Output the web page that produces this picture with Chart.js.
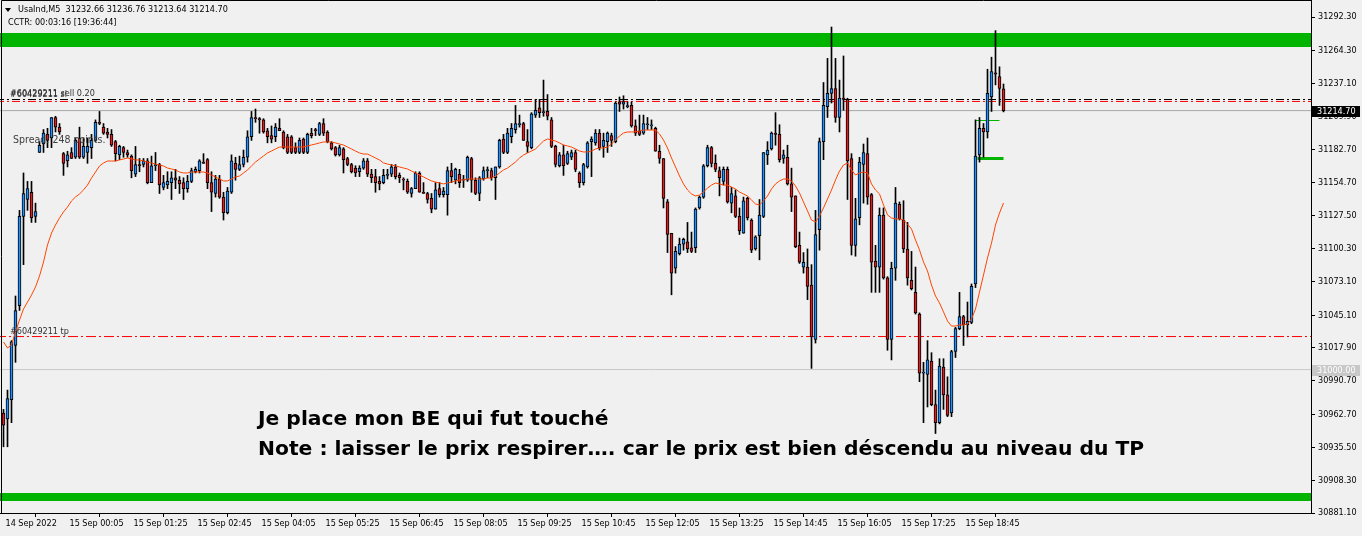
<!DOCTYPE html>
<html>
<head>
<meta charset="utf-8">
<script src="https://cdn.jsdelivr.net/npm/chart.js@4.4.0/dist/chart.umd.min.js"></script>
<style>
  html, body { margin: 0; padding: 0; background: #f0f0f0; }
  #wrap { width: 1362px; height: 536px; }
</style>
</head>
<body>
<div id="wrap"><canvas id="chart" width="1362" height="536"></canvas></div>
<script>
// UsaInd M5 candles, 14 Sep 22:45 -> 15 Sep 19:35
const opens = [30964,30959,30975,31020,31053,31127,31141,31147,31127,31180,31187,31195,31192,31209,31201,31179,31173,31180,31176,31192,
31176,31180,31184,31190,31205,31201,31197,31195,31189,31178,31184,31180,31177,31162,31170,31170,31173,31155,31169,31170,
31151,31153,31155,31159,31157,31155,31150,31156,31164,31165,31172,31174,31155,31146,31158,31143,31130,31147,31171,31166,
31170,31176,31193,31209,31208,31207,31198,31194,31193,31200,31197,31193,31193,31184,31180,31191,31180,31196,31199,31195,
31204,31197,31188,31184,31178,31183,31175,31170,31167,31164,31167,31173,31162,31160,31156,31155,31161,31162,31168,31161,
31158,31156,31146,31150,31163,31147,31146,31142,31133,31150,31145,31145,31165,31157,31162,31157,31157,31175,31157,31146,
31158,31165,31165,31159,31168,31191,31180,31193,31199,31203,31204,31189,31184,31211,31217,31213,31214,31207,31185,31169,
31178,31171,31176,31180,31163,31155,31168,31189,31188,31196,31185,31189,31194,31189,31222,31220,31218,31219,31202,31198,
31196,31203,31202,31200,31181,31175,31139,31113,31084,31096,31104,31106,31101,31101,31134,31143,31169,31184,31171,31165,
31156,31166,31138,31144,31127,31113,31142,31124,31100,31111,31127,31178,31183,31196,31195,31175,31176,31154,31144,31103,
31085,31085,31070,31025,31116,31189,31218,31229,31233,31209,31225,31224,31175,31103,31126,31170,31179,31145,31090,31085,
31128,31076,31025,31084,31137,31124,31100,31074,31064,31046,30997,30996,31007,30971,30956,31002,30979,30964,31015,31034,
31044,31037,31039,31071,31178,31200,31197,31226,31246,31243,31232.66];
const highs = [30967,30983,31024,31061,31132,31163,31156,31156,31138,31189,31199,31200,31209,31210,31204,31180,31181,31184,31192,31201,
31192,31192,31195,31207,31214,31204,31200,31199,31190,31186,31185,31182,31178,31185,31175,31175,31175,31177,31180,31171,
31161,31164,31164,31166,31160,31159,31161,31167,31168,31174,31179,31175,31164,31161,31161,31147,31151,31178,31176,31177,
31182,31198,31214,31216,31209,31208,31200,31202,31204,31208,31198,31195,31194,31188,31192,31192,31196,31200,31200,31205,
31208,31198,31189,31185,31186,31184,31176,31171,31169,31169,31175,31175,31166,31166,31160,31166,31166,31170,31170,31163,
31159,31158,31151,31164,31164,31155,31147,31146,31155,31155,31151,31168,31171,31167,31166,31161,31177,31176,31159,31160,
31168,31168,31167,31168,31191,31195,31200,31204,31219,31211,31205,31199,31213,31224,31224,31240,31228,31209,31186,31180,
31186,31181,31182,31182,31164,31171,31189,31193,31199,31199,31196,31197,31196,31222,31226,31227,31222,31222,31207,31211,
31211,31209,31207,31201,31186,31175,31141,31113,31102,31109,31109,31122,31114,31134,31144,31170,31186,31185,31178,31168,
31168,31168,31151,31149,31134,31143,31143,31125,31111,31141,31180,31189,31197,31213,31203,31182,31186,31167,31144,31114,
31097,31100,31087,31132,31192,31238,31258,31284,31258,31240,31260,31225,31179,31142,31176,31187,31192,31146,31103,31134,
31134,31077,31089,31151,31139,31140,31122,31098,31085,31047,31006,31024,31014,30983,31009,31009,30994,31016,31035,31064,
31045,31056,31071,31207,31209,31204,31249,31259,31281,31251,31236.76];
const lows = [30936,30936,30956,31006,31049,31087,31132,31122,31122,31180,31180,31184,31184,31197,31195,31161,31168,31175,31175,31175,
31175,31171,31175,31189,31203,31195,31192,31185,31173,31174,31176,31176,31159,31160,31164,31168,31154,31155,31165,31146,
31149,31150,31141,31150,31146,31141,31147,31155,31163,31163,31171,31150,31131,31143,31142,31124,31129,31146,31157,31165,
31168,31172,31190,31205,31196,31196,31188,31188,31189,31198,31183,31179,31179,31179,31179,31179,31179,31192,31194,31194,
31194,31188,31182,31177,31177,31163,31169,31163,31160,31160,31166,31160,31155,31147,31149,31154,31158,31160,31158,31155,
31149,31146,31143,31150,31147,31146,31138,31130,31133,31143,31143,31128,31155,31154,31151,31151,31156,31147,31145,31140,
31157,31159,31157,31141,31167,31179,31179,31188,31196,31201,31190,31180,31183,31209,31209,31210,31207,31184,31168,31168,
31161,31170,31174,31164,31151,31153,31167,31160,31186,31182,31176,31180,31185,31188,31214,31216,31217,31201,31194,31194,
31195,31199,31199,31181,31171,31134,31097,31062,31080,31095,31099,31097,31097,31097,31133,31142,31168,31168,31164,31144,
31153,31138,31130,31126,31112,31113,31124,31097,31099,31091,31126,31170,31182,31186,31172,31171,31153,31131,31101,31088,
31080,31058,31001,31022,31099,31174,31209,31221,31205,31197,31215,31141,31095,31094,31120,31138,31137,31064,31064,31064,
31075,31016,31008,31074,31124,31097,31070,31066,31046,30990,30956,30969,30970,30947,30955,30967,30961,30961,31010,31033,
31020,31027,31038,31068,31172,31176,31192,31214,31236,31219,31213.64];
const closes = [30954,30976,31023,31049,31127,31146,31150,31126,31131,31186,31196,31190,31209,31201,31197,31171,31178,31175,31190,31176,
31185,31185,31190,31205,31204,31196,31195,31186,31179,31185,31180,31178,31165,31170,31169,31173,31155,31169,31170,31153,
31155,31156,31159,31157,31154,31150,31156,31165,31166,31173,31171,31155,31147,31158,31143,31130,31148,31173,31166,31170,
31176,31193,31209,31208,31207,31197,31193,31191,31201,31198,31184,31180,31180,31180,31190,31180,31195,31194,31198,31204,
31196,31189,31183,31178,31184,31174,31170,31164,31163,31167,31173,31162,31159,31155,31154,31161,31161,31168,31160,31159,
31157,31147,31150,31163,31147,31146,31141,31133,31149,31145,31148,31165,31160,31166,31155,31157,31176,31157,31146,31159,
31165,31165,31159,31168,31190,31180,31196,31200,31204,31204,31190,31185,31212,31215,31213,31213,31210,31185,31170,31178,
31169,31179,31180,31166,31155,31170,31188,31191,31196,31184,31190,31196,31190,31221,31220,31222,31218,31202,31196,31195,
31204,31203,31202,31181,31175,31142,31112,31080,31098,31104,31108,31100,31098,31133,31143,31169,31184,31171,31166,31159,
31166,31139,31146,31127,31115,31140,31126,31099,31110,31128,31180,31182,31196,31195,31174,31178,31154,31143,31102,31089,
31089,31069,31027,31112,31189,31219,31229,31233,31209,31225,31224,31173,31103,31125,31172,31180,31143,31089,31085,31128,
31076,31025,31084,31138,31125,31100,31076,31067,31047,30997,30997,31008,30971,30956,31003,30979,30962,31015,31034,31044,
31037,31040,31069,31177,31200,31197,31229,31247,31245,31233,31214.70];
// orange moving average as drawn on the chart
const maValues = [31022.9,31017.9,31020.4,31031.2,31041.1,31050.2,31056.0,31061.8,31068.5,31077.6,31089.2,31103.3,31113.2,31119.9,31125.7,31130.7,31134.8,31139.8,31143.1,31145.6,
31148.9,31153.0,31158.8,31163.8,31168.8,31171.3,31172.9,31172.9,31172.9,31173.8,31174.6,31175.4,31174.6,31173.8,31173.8,31172.9,31172.1,31171.3,31170.4,31169.6,
31168.8,31167.1,31166.3,31165.5,31163.8,31163.0,31163.0,31163.8,31163.8,31163.8,31163.8,31163.0,31161.3,31159.7,31158.0,31156.4,31156.4,31158.0,31159.7,31160.5,
31163.0,31165.5,31168.8,31172.1,31174.6,31177.1,31179.6,31181.2,31182.9,31184.5,31184.5,31184.5,31184.5,31184.5,31184.5,31184.5,31185.4,31186.2,31187.0,31187.9,
31188.7,31188.7,31188.7,31187.9,31187.0,31186.2,31184.5,31182.9,31181.2,31179.6,31178.7,31178.7,31177.1,31175.4,31173.8,31171.3,31170.4,31169.6,31168.8,31168.0,
31167.1,31166.3,31164.6,31163.0,31161.3,31159.7,31158.0,31156.4,31155.5,31154.7,31153.9,31154.7,31155.5,31156.4,31157.2,31157.2,31158.0,31158.0,31158.0,31158.0,
31158.0,31158.8,31158.8,31160.5,31163.0,31165.5,31167.1,31169.6,31172.1,31175.4,31177.9,31179.6,31181.2,31182.9,31186.2,31189.5,31191.2,31190.3,31189.5,31187.9,
31186.2,31185.4,31184.5,31182.9,31181.2,31180.4,31180.4,31181.2,31182.9,31183.7,31183.7,31184.5,31187.0,31190.3,31193.7,31196.1,31197.0,31197.0,31197.0,31197.8,
31198.6,31198.6,31198.6,31198.6,31195.3,31190.3,31183.7,31175.4,31168.0,31160.5,31153.9,31148.9,31145.6,31143.9,31144.7,31147.2,31150.5,31153.0,31154.7,31153.9,
31153.0,31153.0,31151.4,31149.7,31147.2,31145.6,31143.9,31140.6,31137.3,31136.5,31139.8,31143.9,31149.7,31153.9,31156.4,31158.0,31158.0,31156.4,31152.2,31146.4,
31138.9,31131.5,31124.0,31122.4,31127.3,31134.0,31141.4,31148.9,31157.2,31164.6,31169.6,31171.3,31165.5,31161.3,31163.0,31163.8,31163.0,31153.9,31148.9,31145.6,
31136.5,31128.2,31125.7,31124.9,31124.9,31124.0,31120.7,31116.6,31107.4,31099.2,31089.2,31081.7,31070.1,31061.0,31055.2,31047.8,31040.3,31036.1,31036.1,31037.0,
31037.0,31037.8,31041.9,31050.2,31064.3,31078.4,31092.5,31104.9,31119.9,31129.8,31138.1];

// axis ticks
const xTickIdx = [0, 16, 32, 48, 64, 80, 96, 112, 128, 144, 160, 176, 192, 208, 224, 240];
const xTickLabels = ["14 Sep 2022", "15 Sep 00:05", "15 Sep 01:25", "15 Sep 02:45", "15 Sep 04:05", "15 Sep 05:25",
  "15 Sep 06:45", "15 Sep 08:05", "15 Sep 09:25", "15 Sep 10:45", "15 Sep 12:05", "15 Sep 13:25",
  "15 Sep 14:45", "15 Sep 16:05", "15 Sep 17:25", "15 Sep 18:45"];
const yTicks = [31292.30, 31264.30, 31237.10, 31209.90, 31182.70, 31154.70, 31127.50, 31100.30,
  31073.10, 31045.10, 31017.90, 30990.70, 30962.70, 30935.50, 30908.30, 30881.10];
const yMin = 30881.1, yMax = 31306.4;
const xMin = -0.875, xMax = 326.875;

// order levels / objects
const entryPrice = 31223.9;
const slPrice = 31222.3;
const tpPrice = 31027.4;
const roundPrice = 31000.0;
const bidPrice = closes[closes.length - 1];
const zoneTop = [31267.4, 31279.0];
const zoneBottom = [30891.1, 30897.7];
const greenThin = { from: 243, to: 249, price: 31206.5 };
const greenThick = { from: 243.5, to: 250, price: 31175.0 };

const BULL = "#1e90ff";
const BEAR = "#dc1e1e";
const GREEN = "#00b400";
const FONT = "'DejaVu Sans Condensed', 'Liberation Sans', sans-serif";

const bodies = opens.map((o, i) => ({ x: i, y: [o, closes[i]] }));
const wicks = highs.map((h, i) => ({ x: i, y: [lows[i], h] }));
const bodyColors = opens.map((o, i) => (closes[i] >= o ? BULL : BEAR));
const maData = maValues.map((v, i) => ({ x: i, y: v }));

function hLine(price) {
  return [{ x: xMin - 1, y: price }, { x: xMax + 1, y: price }];
}

function lineSet(data, color, width, dash, order) {
  return {
    type: "line",
    data: data,
    borderColor: color,
    borderWidth: width,
    borderDash: dash,
    pointRadius: 0,
    tension: 0,
    fill: false,
    order: order,
  };
}

// green zones behind the candles
const zonesPlugin = {
  id: "zones",
  beforeDatasetsDraw(chart) {
    const { ctx, chartArea, scales } = chart;
    ctx.save();
    ctx.fillStyle = GREEN;
    [zoneTop, zoneBottom].forEach(([lo, hi]) => {
      const y1 = Math.round(scales.y.getPixelForValue(hi));
      const y2 = Math.round(scales.y.getPixelForValue(lo));
      ctx.fillRect(chartArea.left, y1, chartArea.right - chartArea.left, y2 - y1);
    });
    ctx.restore();
  },
};

// chart texts and price labels
const textPlugin = {
  id: "texts",
  afterDatasetsDraw(chart) {
    const { ctx, scales } = chart;
    const y = scales.y;
    ctx.save();
    ctx.textBaseline = "middle";
    ctx.textAlign = "left";

    // header
    ctx.fillStyle = "#000";
    ctx.beginPath();
    ctx.moveTo(5, 8);
    ctx.lineTo(11, 8);
    ctx.lineTo(8, 12);
    ctx.closePath();
    ctx.fill();
    ctx.font = "9px " + FONT;
    ctx.fillText("UsaInd,M5  31232.66 31236.76 31213.64 31214.70", 18, 10);
    ctx.fillText("CCTR: 00:03:16 [19:36:44]", 8, 23);

    // order labels
    ctx.fillStyle = "#303030";
    ctx.font = "9px " + FONT;
    ctx.fillText("#60429211 sl", 10, Math.round(y.getPixelForValue(slPrice)) - 6);
    ctx.fillText("#60429211 sell 0.20", 10, Math.round(y.getPixelForValue(entryPrice)) - 6);
    ctx.fillText("#60429211 tp", 10, Math.round(y.getPixelForValue(tpPrice)) - 5);

    ctx.fillStyle = "#404040";
    ctx.font = "10.5px " + FONT;
    ctx.fillText("Spread: 248 points.", 13, 140);

    // annotation
    ctx.fillStyle = "#000";
    ctx.font = "bold 20.3px 'DejaVu Sans', sans-serif";
    ctx.fillText("Je place mon BE qui fut touché", 258, 420);
    ctx.fillText("Note : laisser le prix respirer…. car le prix est bien déscendu au niveau du TP", 258, 450);
    ctx.restore();
  },
  afterDraw(chart) {
    const { ctx, chartArea, scales } = chart;
    const y = scales.y;
    ctx.save();
    ctx.font = "9px " + FONT;
    ctx.textBaseline = "middle";
    const box = (price, bg, fg) => {
      const py = Math.round(y.getPixelForValue(price));
      ctx.fillStyle = bg;
      ctx.fillRect(chartArea.right + 1, py - 5, 48, 11);
      ctx.fillStyle = fg;
      ctx.fillText(price.toFixed(2), chartArea.right + 6, py + 0.5);
    };
    box(roundPrice, "#c8c8c8", "#ffffff");
    box(bidPrice, "#000000", "#ffffff");

    // frame top / left
    ctx.strokeStyle = "#000";
    ctx.lineWidth = 1;
    ctx.beginPath();
    ctx.moveTo(chartArea.left + 1.5, chartArea.bottom);
    ctx.lineTo(chartArea.left + 1.5, chartArea.top + 0.5);
    ctx.lineTo(chartArea.right, chartArea.top + 0.5);
    ctx.stroke();
    ctx.restore();
  },
};

const ctx = document.getElementById("chart").getContext("2d");
new Chart(ctx, {
  type: "bar",
  data: {
    datasets: [
      {
        type: "bar",
        data: bodies,
        backgroundColor: bodyColors,
        borderColor: "#000",
        borderWidth: 1,
        borderSkipped: false,
        barThickness: 3,
        minBarLength: 1,
        grouped: false,
        order: 1,
      },
      {
        type: "bar",
        data: wicks,
        backgroundColor: "#000",
        borderWidth: 0,
        barThickness: 1,
        grouped: false,
        order: 2,
      },
      lineSet(maData, "#ff4500", 1, [], 0),
      lineSet(hLine(roundPrice), "#c8c8c8", 1, [], 5),
      lineSet(hLine(bidPrice), "#a8a8a8", 1, [], 5),
      lineSet(hLine(entryPrice), "#000", 1, [8, 3, 2, 3], 4),
      lineSet(hLine(slPrice), "#ff0000", 1, [8, 3, 2, 3], 4),
      lineSet(hLine(tpPrice), "#ff0000", 1, [10, 3, 2, 3], 4),
      lineSet([{ x: greenThin.from, y: greenThin.price }, { x: greenThin.to, y: greenThin.price }], GREEN, 1, [], 3),
      lineSet([{ x: greenThick.from, y: greenThick.price }, { x: greenThick.to, y: greenThick.price }], GREEN, 3, [], 3),
    ],
  },
  options: {
    responsive: false,
    animation: false,
    devicePixelRatio: 1,
    layout: { padding: 0 },
    plugins: { legend: { display: false }, tooltip: { enabled: false } },
    scales: {
      x: {
        type: "linear",
        min: xMin,
        max: xMax,
        offset: false,
        grid: { drawOnChartArea: false, drawTicks: true, tickLength: 4, color: "#000" },
        border: { display: true, color: "#000" },
        afterBuildTicks: (s) => {
          s.ticks = xTickIdx.map((v) => ({ value: v }));
        },
        ticks: {
          autoSkip: false,
          maxRotation: 0,
          align: "start",
          labelOffset: 2,
          padding: 1,
          color: "#000",
          font: { family: FONT, size: 9 },
          callback: (v, i) => xTickLabels[i],
        },
        afterFit: (s) => {
          s.height = 23;
          s.paddingLeft = 0;
          s.paddingRight = 0;
        },
      },
      y: {
        type: "linear",
        position: "right",
        min: yMin,
        max: yMax,
        grid: { drawOnChartArea: false, drawTicks: true, tickLength: 4, color: "#000" },
        border: { display: true, color: "#000" },
        afterBuildTicks: (s) => {
          s.ticks = yTicks.map((v) => ({ value: v }));
        },
        ticks: {
          padding: 3,
          color: "#000",
          font: { family: FONT, size: 9 },
          callback: (v) => v.toFixed(2),
        },
        afterFit: (s) => {
          s.width = 51;
          s.paddingTop = 0;
          s.paddingBottom = 0;
        },
      },
    },
  },
  plugins: [zonesPlugin, textPlugin],
});
</script>
</body>
</html>
